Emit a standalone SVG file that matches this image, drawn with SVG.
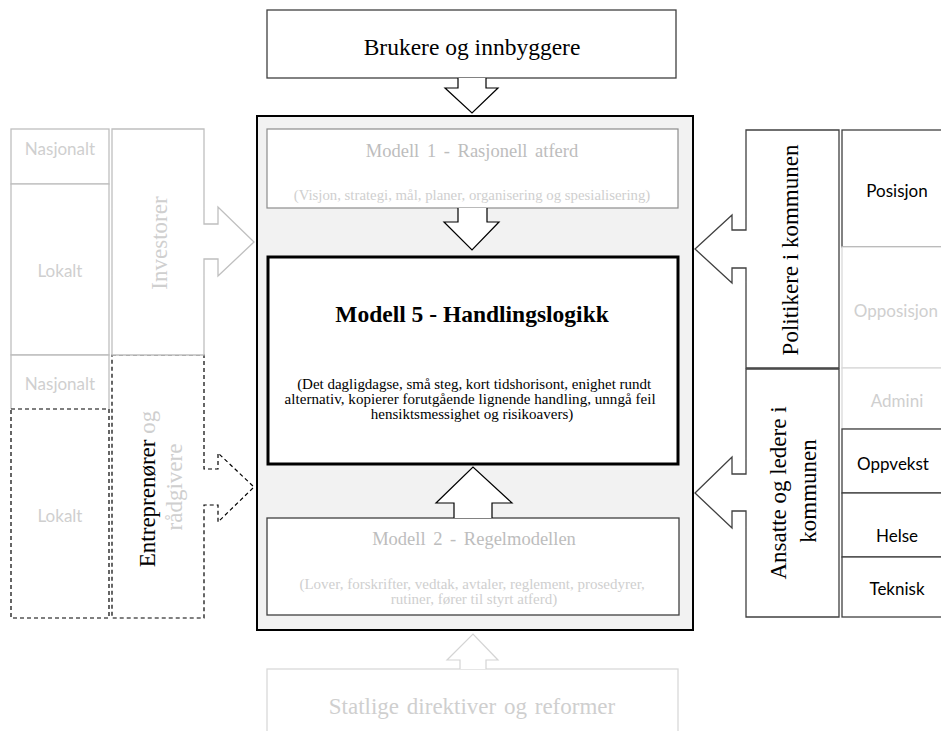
<svg xmlns="http://www.w3.org/2000/svg" width="941" height="731" viewBox="0 0 941 731">
  <style>
    .serif { font-family: "Liberation Serif", "Times New Roman", serif; }
    .sans { font-family: Lato, "Liberation Sans", sans-serif; font-size: 17px; }
    .ink { fill: #000000; }
    .pale { fill: #cfcfcf; }
    .mid { fill: #bdbdbd; }
    .box-dark { fill: #ffffff; stroke: #404040; stroke-width: 1.3; }
    .box-grey { fill: #ffffff; stroke: #bfbfbf; stroke-width: 1.3; }
    .box-light { fill: #ffffff; stroke: #d9d9d9; stroke-width: 1.3; }
    .box-dash { fill: #ffffff; stroke: #000000; stroke-width: 1.2; stroke-dasharray: 4 3; }
    .arrow { fill: #ffffff; stroke: #000000; stroke-width: 1.2; }
    .arrow-light { fill: #ffffff; stroke: #d4d4d4; stroke-width: 1.2; }
  </style>

  <!-- municipality frame -->
  <g id="kommune">
    <rect x="257" y="116" width="436" height="514" fill="#f2f2f2" stroke="#000000" stroke-width="2"/>
  </g>

  <!-- top: users and citizens -->
  <g id="brukere">
    <rect x="267" y="10" width="409" height="68" class="box-dark"/>
    <text x="472" y="55" class="serif ink" font-size="23.5" text-anchor="middle">Brukere og innbyggere</text>
  </g>

  <!-- model 1 -->
  <g id="modell1">
    <rect x="267" y="129" width="411" height="79" fill="#ffffff" stroke="#8c8c8c" stroke-width="1.2"/>
    <text x="472" y="157" class="serif mid" font-size="18.5" text-anchor="middle" word-spacing="3">Modell 1 - Rasjonell atferd</text>
    <text x="472" y="200" class="serif pale" font-size="14.8" text-anchor="middle">(Visjon, strategi, mål, planer, organisering og spesialisering)</text>
  </g>

  <!-- model 5 -->
  <g id="modell5">
    <rect x="268" y="257" width="410" height="207" fill="#ffffff" stroke="#000000" stroke-width="3"/>
    <text x="472" y="322" class="serif ink" font-size="23.5" font-weight="bold" text-anchor="middle">Modell 5 - Handlingslogikk</text>
    <text class="serif ink" font-size="15" text-anchor="middle">
      <tspan x="476" y="389" textLength="354">(Det dagligdagse,  små steg, kort tidshorisont, enighet rundt</tspan>
      <tspan x="472" y="404" textLength="371">alternativ, kopierer forutgående lignende handling, unngå feil</tspan>
      <tspan x="472" y="419">hensiktsmessighet og risikoavers)</tspan>
    </text>
  </g>

  <!-- model 2 -->
  <g id="modell2">
    <rect x="267" y="518" width="412" height="97" class="box-dark"/>
    <text x="474" y="545" class="serif mid" font-size="18.5" text-anchor="middle" word-spacing="3">Modell 2 - Regelmodellen</text>
    <text class="serif pale" font-size="15" text-anchor="middle">
      <tspan x="474" y="589">(Lover, forskrifter, vedtak, avtaler, reglement, prosedyrer,</tspan>
      <tspan x="474" y="604">rutiner, fører til styrt atferd)</tspan>
    </text>
  </g>

  <!-- bottom: state directives -->
  <g id="statlige">
    <rect x="267" y="669" width="411" height="80" class="box-light"/>
    <text x="472" y="714" class="serif pale" font-size="23" text-anchor="middle" word-spacing="2">Statlige direktiver og reformer</text>
  </g>

  <!-- left column: national / local -->
  <g id="nasjonalt1">
    <rect x="11" y="129" width="98" height="55" class="box-grey"/>
    <text x="60" y="155" class="sans pale" text-anchor="middle">Nasjonalt</text>
  </g>
  <g id="lokalt1">
    <rect x="11" y="184" width="98" height="171" class="box-grey"/>
    <text x="60" y="277" class="sans pale" text-anchor="middle">Lokalt</text>
  </g>
  <g id="nasjonalt2">
    <path d="M11,409 V355 H109 V409" class="box-grey"/>
    <text x="60" y="390" class="sans pale" text-anchor="middle">Nasjonalt</text>
  </g>
  <g id="lokalt2">
    <rect x="11" y="409" width="98" height="209" class="box-dash"/>
    <text x="60" y="522" class="sans pale" text-anchor="middle">Lokalt</text>
  </g>

  <!-- left arrow-shaped actors -->
  <g id="entreprenorer">
    <path d="M112,355 H204 V469 H218 V453 L254,487 L218,522 V505 H204 V618 H112 Z" class="box-dash"/>
    <text transform="translate(155,489) rotate(-90)" class="serif ink" font-size="23" text-anchor="middle">Entreprenører<tspan class="pale"> og</tspan></text>
    <text transform="translate(182,487) rotate(-90)" class="serif pale" font-size="23" text-anchor="middle">rådgivere</text>
  </g>
  <g id="investorer">
    <path d="M112,129 H204 V224 H218 V207 L254,242 L218,276 V259 H204 V355 H112 Z" class="box-grey"/>
    <text transform="translate(167,243) rotate(-90)" class="serif pale" font-size="23" text-anchor="middle">Investorer</text>
  </g>

  <!-- right arrow-shaped actors -->
  <g id="politikere">
    <path d="M839,130 H746 V230 H732 V215 L695,249 L732,283 V268 H746 V368 H839 Z" class="box-dark"/>
    <text transform="translate(798,250) rotate(-90)" class="serif ink" font-size="23" text-anchor="middle">Politikere i kommunen</text>
  </g>
  <g id="ansatte">
    <path d="M839,369 H746 V474 H732 V457 L695,493 L732,528 V511 H746 V617 H839 Z" class="box-dark"/>
    <text transform="translate(786,493) rotate(-90)" class="serif ink" font-size="23" text-anchor="middle">Ansatte og ledere i</text>
    <text transform="translate(816,491) rotate(-90)" class="serif ink" font-size="23" text-anchor="middle">kommunen</text>
  </g>

  <!-- right column: political and administrative units -->
  <g id="posisjon">
    <rect x="842" y="130" width="110" height="117" class="box-dark"/>
    <text x="897" y="197" class="sans ink" text-anchor="middle">Posisjon</text>
  </g>
  <g id="opposisjon">
    <rect x="842" y="247" width="110" height="121" class="box-light"/>
    <text x="938" y="317" class="sans pale" font-size="13.5" text-anchor="end">Opposisjon</text>
  </g>
  <g id="admini">
    <rect x="842" y="368" width="110" height="61" class="box-light"/>
    <text x="897" y="407" class="sans pale" text-anchor="middle">Admini</text>
  </g>
  <g id="oppvekst">
    <rect x="842" y="429" width="110" height="64" class="box-dark"/>
    <text x="893" y="470" class="sans ink" text-anchor="middle">Oppvekst</text>
  </g>
  <g id="helse">
    <rect x="842" y="493" width="110" height="64" class="box-dark"/>
    <text x="897" y="542" class="sans ink" text-anchor="middle">Helse</text>
  </g>
  <g id="teknisk">
    <rect x="842" y="557" width="110" height="60" class="box-dark"/>
    <text x="897" y="595" class="sans ink" text-anchor="middle">Teknisk</text>
  </g>

  <!-- block-arrow connectors -->
  <g id="connectors">
    <path d="M458,78 V88 H445 L472,113 L498,88 H486 V78" class="arrow"/>
    <path d="M458,208 V222 H444 L472,250 L499,222 H487 V208" class="arrow"/>
    <path d="M454,518 V503 H436 L473,467 L512,503 H492 V518" class="arrow"/>
    <path d="M460,669 V660 H447 L473,634 L498,660 H486 V669" class="arrow-light"/>
  </g>
</svg>
